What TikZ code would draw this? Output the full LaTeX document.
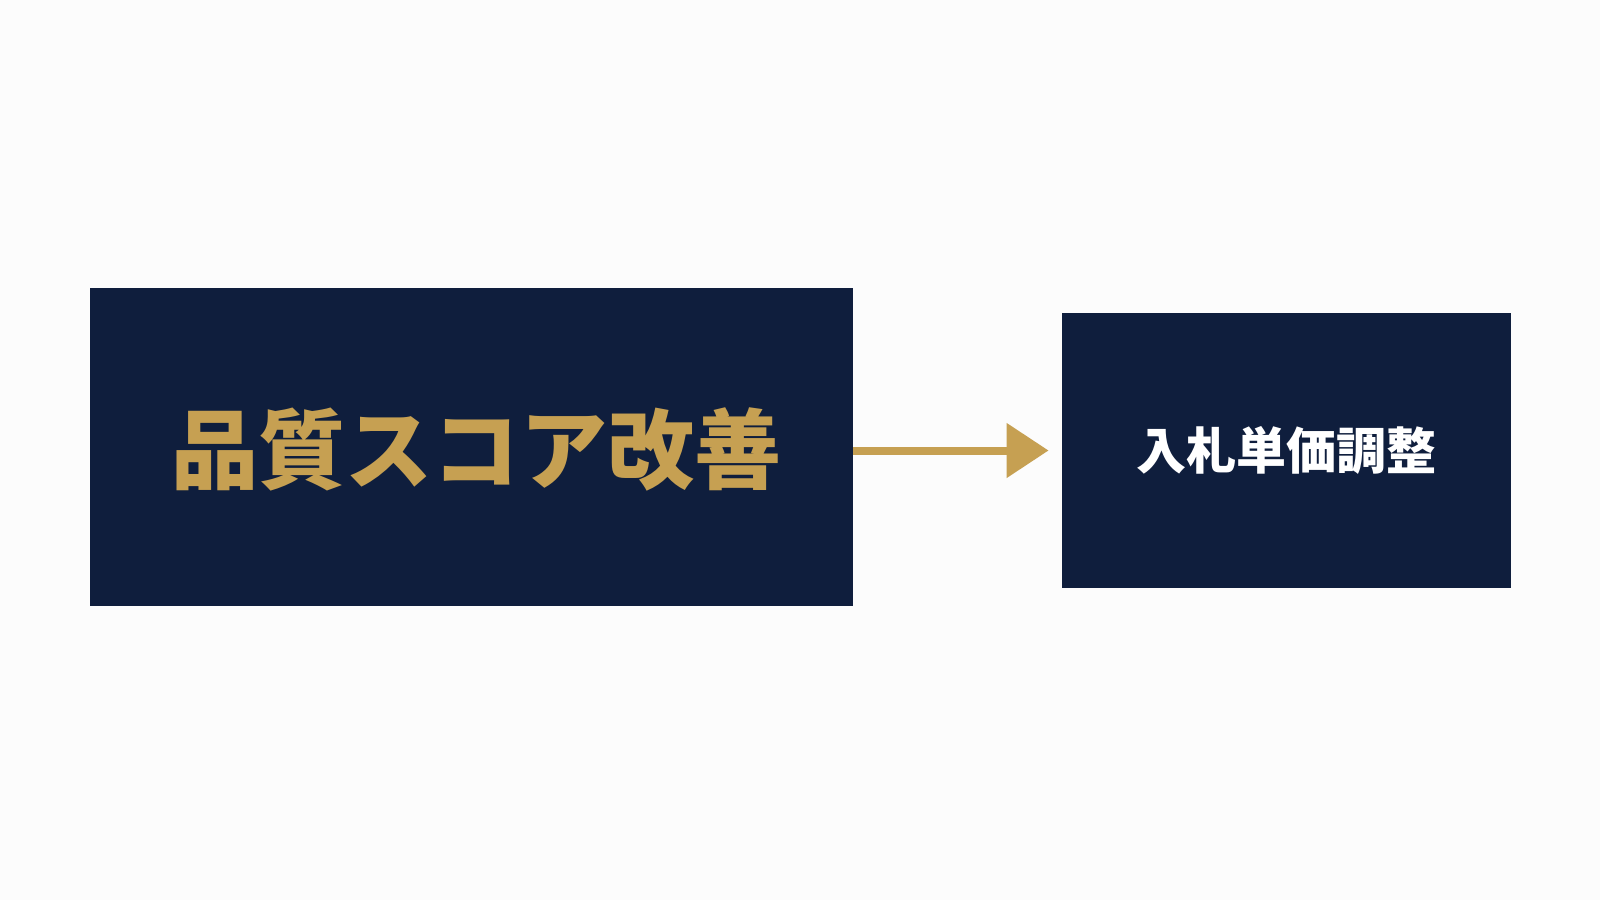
\documentclass[tikz,border=0pt]{standalone}
\usepackage{fontspec}
\newfontfamily\cjk{Noto Sans CJK JP}
\usetikzlibrary{positioning,arrows.meta}
\definecolor{navy}{RGB}{15,30,61}
\definecolor{gold}{RGB}{198,160,82}
\tikzset{
  box/.style={fill=navy, draw=none, inner sep=0pt, font=\cjk\bfseries},
  flow/.style={draw=gold, line width=4pt, -{Triangle[length=21pt,width=26.5pt]}}
}
\begin{document}
\begin{tikzpicture}[x=0.5pt,y=-0.5pt]
  \fill[white!99!black] (0,0) rectangle (1600,900);
  \useasboundingbox (0,0) rectangle (1600,900);
  % boxes
  \node[box, minimum width=381.5pt, minimum height=159pt] (quality) at (471.5,447) {};
  \node[text=gold, font=\cjk\bfseries\fontsize{43.6}{50}\selectfont, inner sep=0pt] (qlabel) at ([xshift=2.5pt,yshift=-1pt]quality.center) {品質スコア改善};
  \node[box, minimum width=224.5pt, minimum height=137.5pt, text=white, font=\cjk\bfseries\fontsize{25}{30}\selectfont] (bid) at (1286.5,450.5) {入札単価調整};
  % arrow
  \draw[flow, shorten >=6.5pt] (quality.east |- bid.west) -- (bid.west);
\end{tikzpicture}
\end{document}
